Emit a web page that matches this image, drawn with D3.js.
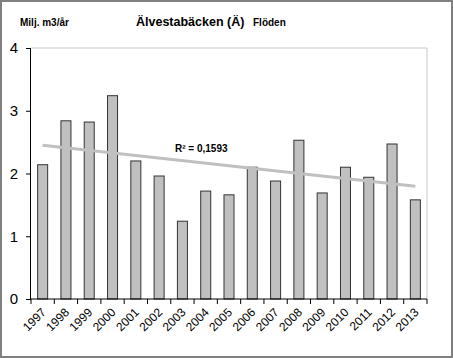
<!DOCTYPE html>
<html><head><meta charset="utf-8">
<script src="https://cdn.jsdelivr.net/npm/d3@7"></script>
<style>body{margin:0;background:#fff}svg{display:block;font-family:Arial,"Liberation Sans",sans-serif}</style>
</head><body><svg id="c" width="453" height="358"></svg>
<script>
const years = ["1997","1998","1999","2000","2001","2002","2003","2004","2005","2006","2007","2008","2009","2010","2011","2012","2013"];
const flows = [2.14,2.84,2.82,3.24,2.2,1.96,1.24,1.72,1.66,2.1,1.88,2.53,1.69,2.1,1.94,2.47,1.58];
const yTicks = [0,1,2,3,4];
const r2Label = "R² = 0,1593";

const svg = d3.select("#c");
const L=31,R=427,T=48,B=299;
svg.append("rect").attr("x",1).attr("y",1).attr("width",451).attr("height",356).attr("fill","#fff").attr("stroke","#808080").attr("stroke-width",2);

const x = d3.scaleBand().domain(years).range([L,R]).paddingInner(0.57).paddingOuter(0.285);
const y = d3.scaleLinear().domain([0,4]).range([B,T]);

svg.append("path").attr("d",`M${L},${T}H${R}V${B}`).attr("fill","none").attr("stroke","#c8c8c8").attr("stroke-width",1);

svg.selectAll(".bar").data(flows).join("rect")
 .attr("x",(d,i)=>x(years[i])).attr("width",x.bandwidth())
 .attr("y",d=>y(d)).attr("height",d=>B-y(d))
 .attr("fill","#c0c0c0").attr("stroke","#333").attr("stroke-width",1);

const n=flows.length, xs=d3.range(n);
const mx=d3.mean(xs), my=d3.mean(flows);
const slope=d3.sum(xs,(v,i)=>(v-mx)*(flows[i]-my))/d3.sum(xs,v=>(v-mx)**2);
const icpt=my-slope*mx;
const cx=i=>x(years[i])+x.bandwidth()/2;
svg.append("line").attr("x1",cx(0)).attr("y1",y(icpt)).attr("x2",cx(n-1)).attr("y2",y(icpt+slope*(n-1)))
 .attr("stroke","#c0c0c0").attr("stroke-width",3);

const ya=svg.append("g").attr("transform",`translate(${L},0)`)
 .call(d3.axisLeft(y).tickValues(yTicks).tickSize(5).tickPadding(8).tickFormat(d3.format("d")));
ya.select(".domain").attr("stroke","#000").attr("d",`M-0.5,${T}V${B}`);
ya.selectAll("text").attr("font-size",15).attr("font-family","Arial,'Liberation Sans',sans-serif").attr("fill","#000");
ya.selectAll("line").attr("stroke","#000");

const xa=svg.append("g").attr("transform",`translate(0,${B})`);
xa.append("line").attr("x1",L).attr("x2",R).attr("stroke","#000");
const step=x.step();
xa.selectAll(".tk").data(d3.range(n+1)).join("line")
 .attr("x1",i=>L+i*step).attr("x2",i=>L+i*step).attr("y1",0).attr("y2",5).attr("stroke","#000");
xa.selectAll(".lb").data(years).join("text")
 .attr("transform",(d,i)=>`translate(${cx(i)+4},${14}) rotate(-45)`)
 .attr("text-anchor","end").attr("font-size",12).attr("fill","#000").text(d=>d);

svg.append("text").attr("x",20).attr("y",26).attr("font-size",10).attr("font-weight","bold").text("Milj. m3/år");
svg.append("text").attr("x",136).attr("y",26).attr("font-size",12.5).attr("font-weight","bold").text("Älvestabäcken (Ä)");
svg.append("text").attr("x",253).attr("y",26).attr("font-size",10).attr("font-weight","bold").text("Flöden");
svg.append("text").attr("x",175).attr("y",152).attr("font-size",10).attr("font-weight","bold").text(r2Label);
</script></body></html>
